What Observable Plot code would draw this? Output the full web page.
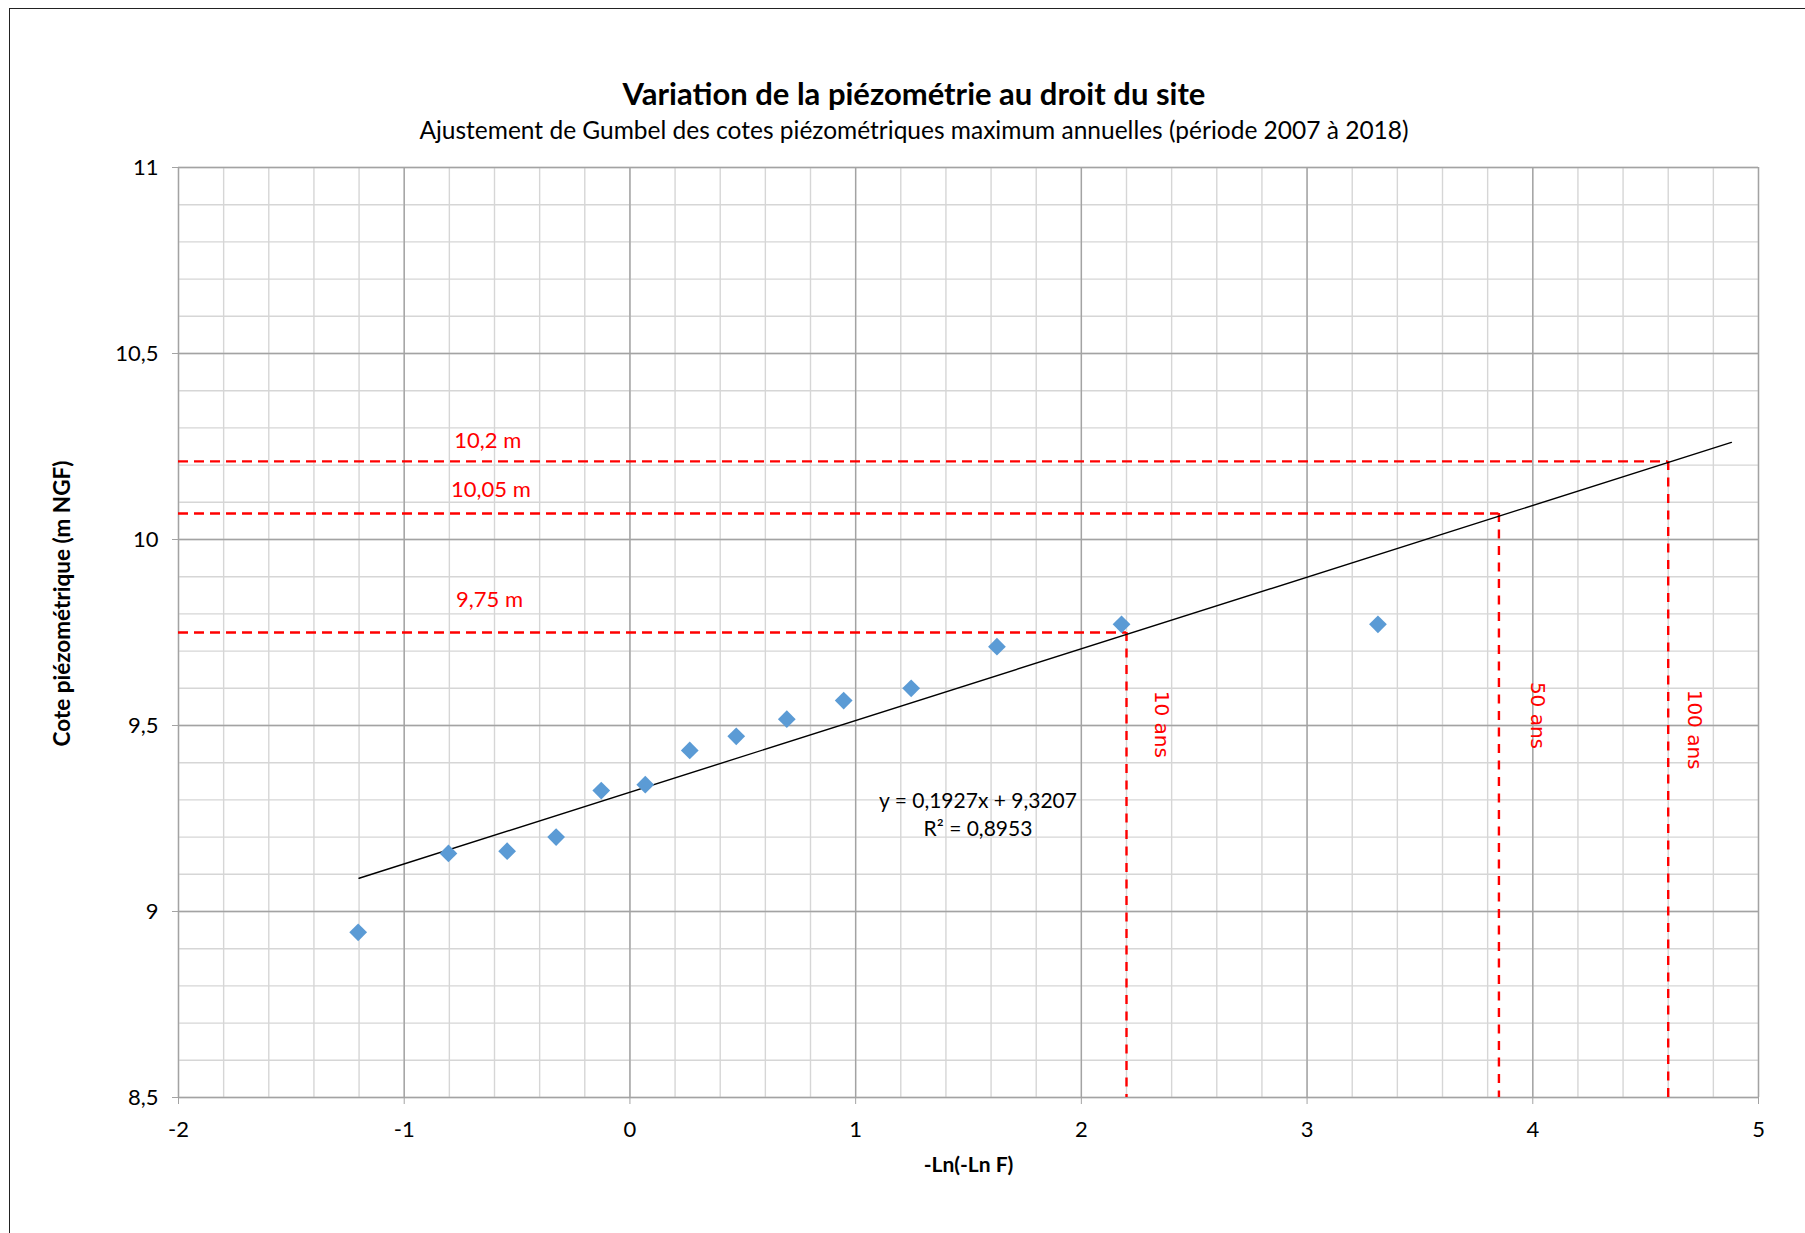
<!DOCTYPE html>
<html>
<head>
<meta charset="utf-8">
<script src="https://cdn.jsdelivr.net/npm/d3@7"></script>
<script src="https://cdn.jsdelivr.net/npm/@observablehq/plot@0.6"></script>
<style>
  html, body { margin: 0; padding: 0; background: #fff; }
  body { width: 1805px; height: 1233px; position: relative; overflow: hidden; font-family: Lato, "Open Sans", sans-serif; }
  #frame { position: absolute; left: 9px; top: 8px; width: 1900px; height: 1300px; border-left: 1px solid #222; border-top: 1px solid #222; }
  #title { position: absolute; left: 0; width: 1828px; top: 74px; text-align: center; font-weight: bold; font-size: 31px; color: #000; line-height: 38px; }
  #subtitle { position: absolute; left: 0; width: 1828px; top: 115px; text-align: center; font-size: 24.5px; color: #000; line-height: 30px; }
  #chart { position: absolute; left: 0; top: 140px; }
</style>
</head>
<body>
<div id="frame"></div>
<div id="title"></div>
<div id="subtitle"></div>
<div id="chart"></div>
<script>
// ---- Data ----
const titleText = "Variation de la piézométrie au droit du site";
const subtitleText = "Ajustement de Gumbel des cotes piézométriques maximum annuelles (période 2007 à 2018)";
const xTitle = "-Ln(-Ln F)";
const yTitle = "Cote piézométrique (m NGF)";

const xTicks = [-2, -1, 0, 1, 2, 3, 4, 5];
const yTicks = [8.5, 9, 9.5, 10, 10.5, 11];

// Gumbel reduced variate -Ln(-Ln F) and annual max piezometric level
const reducedVariate = [-1.204, -0.804, -0.544, -0.327, -0.127, 0.068, 0.265, 0.471, 0.695, 0.947, 1.246, 1.626, 2.178, 3.314];
const coteMax = [8.944, 9.156, 9.162, 9.200, 9.325, 9.341, 9.433, 9.471, 9.517, 9.567, 9.600, 9.712, 9.772, 9.772];

// Linear trend (Excel) y = 0,1927x + 9,3207
const trendSlope = 0.1927;
const trendIntercept = 9.3207;
const trendRange = [-1.2, 4.88];
const trendLabel = ["y = 0,1927x + 9,3207", "R² = 0,8953"];
const trendLabelY = [9.296, 9.220];

// Return periods (read on chart)
const returnLabels = ["10 ans", "50 ans", "100 ans"];
const returnX = [2.20, 3.85, 4.60];
const returnLevels = [9.75, 10.07, 10.21];
const levelLabels = ["9,75 m", "10,05 m", "10,2 m"];
// annotation anchors (data coordinates)
const levelLabelX = [-0.622, -0.616, -0.630];
const levelLabelY = [9.838, 10.134, 10.266];
const returnLabelX = [2.354, 4.022, 4.715];
const returnLabelY = [9.503, 9.527, 9.489];

// ---- Build tables ----
const points = reducedVariate.map((x, i) => ({x, y: coteMax[i]}));
const trend = trendRange.map(x => ({x, y: trendSlope * x + trendIntercept}));
const returns = returnLabels.map((label, i) => ({
  label, x: returnX[i], y: returnLevels[i], level: levelLabels[i],
  lx: levelLabelX[i], ly: levelLabelY[i], rx: returnLabelX[i], ry: returnLabelY[i]
}));
const eq = trendLabel.map((t, i) => ({t, y: trendLabelY[i]}));

document.getElementById("title").textContent = titleText;
document.getElementById("subtitle").textContent = subtitleText;

const minorX = d3.range(-2, 5.001, 0.2).map(v => +v.toFixed(1));
const minorY = d3.range(8.5, 11.001, 0.1).map(v => +v.toFixed(1));
const fmt = d => String(d).replace(".", ",");
const red = "#ff0000";
const gridMinor = "#d6d6d6";
const gridMajor = "#a3a3a3";

const chart = Plot.plot({
  width: 1805,
  height: 1060,
  marginLeft: 178,
  marginRight: 47,
  marginTop: 27,
  marginBottom: 103,
  style: {fontFamily: "Lato, 'Open Sans', sans-serif", fontSize: "22px", color: "#000", background: "transparent", overflow: "visible"},
  x: {domain: [-2, 5]},
  y: {domain: [8.5, 11]},
  marks: [
    Plot.ruleX(minorX, {stroke: gridMinor, strokeWidth: 1.4}),
    Plot.ruleY(minorY, {stroke: gridMinor, strokeWidth: 1.4}),
    Plot.ruleX(xTicks, {stroke: gridMajor, strokeWidth: 1.4}),
    Plot.ruleY(yTicks, {stroke: gridMajor, strokeWidth: 1.4}),
    Plot.axisX({ticks: xTicks, tickFormat: d => String(d), tickSize: 7, tickPadding: 17, stroke: gridMajor, label: null, fontSize: 22}),
    Plot.axisY({ticks: yTicks, tickFormat: fmt, tickSize: 6, tickPadding: 14, stroke: gridMajor, label: null, fontSize: 22}),
    // axis titles
    Plot.text([xTitle], {frameAnchor: "bottom", dy: 68, text: d => d, fontWeight: "bold", fontSize: 21, lineAnchor: "middle", textAnchor: "middle"}),
    Plot.text([yTitle], {frameAnchor: "left", dx: -116, dy: -29, rotate: -90, text: d => d, fontWeight: "bold", fontSize: 22.5, lineAnchor: "middle", textAnchor: "middle"}),
    // return period dashed lines
    Plot.ruleY(returns, {y: "y", x1: -2, x2: "x", stroke: red, strokeWidth: 2.4, strokeDasharray: "10,6"}),
    Plot.ruleX(returns, {x: "x", y1: "y", y2: 8.5, stroke: red, strokeWidth: 2.4, strokeDasharray: "9,7.5"}),
    // trend line
    Plot.line(trend, {x: "x", y: "y", stroke: "#000", strokeWidth: 1.4}),
    // points
    Plot.dot(points, {x: "x", y: "y", symbol: "diamond2", r: 8, fill: "#5b9bd5", stroke: "none"}),
    // labels for levels
    Plot.text(returns, {x: "lx", y: "ly", text: "level", fill: red, fontSize: 22}),
    // rotated return-period labels
    Plot.text(returns, {x: "rx", y: "ry", text: "label", fill: red, fontSize: 20, rotate: 90, fontFamily: "DejaVu Sans"}),
    // equation
    Plot.text(eq, {x: 1.542, y: "y", text: "t", fontSize: 21, fill: "#000"})
  ]
});
document.getElementById("chart").appendChild(chart);
</script>
</body>
</html>
